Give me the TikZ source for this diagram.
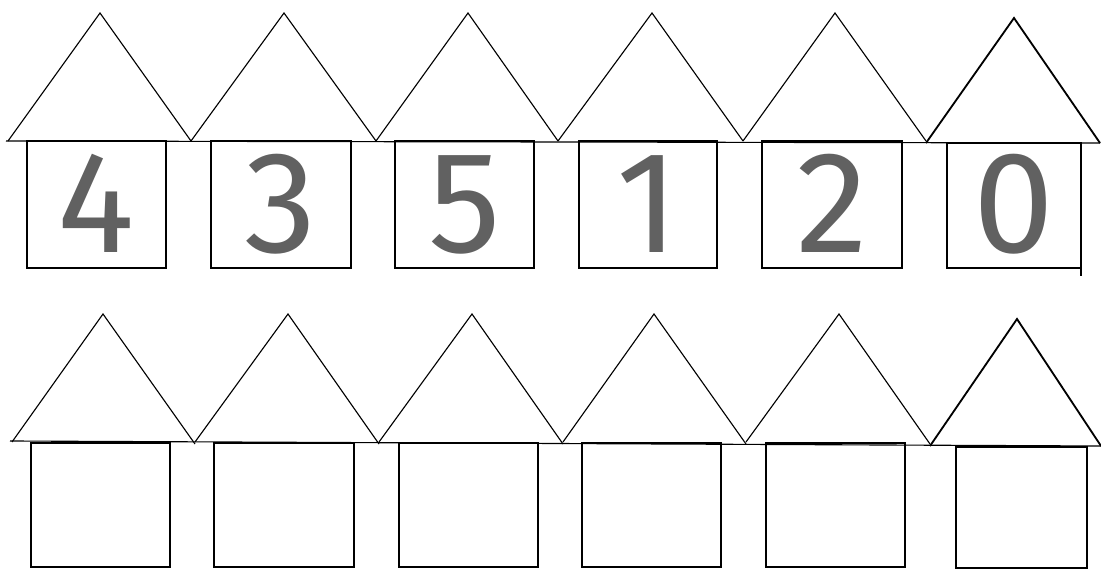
\documentclass[tikz,border=0pt]{standalone}
\usepackage{fontspec}
\newfontfamily\digitfont{Fira Sans}
\begin{document}
\begin{tikzpicture}[x=0.025cm,y=-0.025cm,line width=0.8pt,every node/.style={font=\digitfont\fontsize{103}{103}\selectfont,text=black!62,inner sep=0pt}]
  \useasboundingbox (0,0) rectangle (1101,570);
  % top row with digits
  \draw (6,141) -- (1100,143);
  \foreach \l/\a/\r/\sl/\sr/\d [count=\i] in {8/100/191/27/166/4,191/284/376/211/351/3,376/468/558/395/534/5,558/652/743/579/717/1,743/835/926/762/902/2} {
    \draw (\l,141) -- (\a,13) -- (\r,141);
    \draw (\sl,141) rectangle (\sr,268);
    \node[anchor=base] (top\i) at ({(\sl+\sr)/2},253) {\d};
  }
  \draw[line width=1.3pt] (926,143) -- (1014,18) -- (1100,143);
  \draw[line width=1.1pt] (947,143) rectangle (1081,268);
  \draw (1081,268) -- (1081,276);
  \node[anchor=base] (top6) at (1014,253) {0};
  % bottom row, empty
  \draw (10,441) -- (1101,446);
  \foreach \l/\a/\r/\sl/\sr in {12/103/195/31/170,195/288/379/214/354,379/472/563/399/538,563/654/746/582/721,746/839/930/766/905} {
    \draw (\l,442) -- (\a,314) -- (\r,444);
    \draw (\sl,443) rectangle (\sr,567);
  }
  \draw[line width=1.3pt] (930,446) -- (1017,319) -- (1101,446);
  \draw[line width=1.1pt] (956,447) rectangle (1087,568);
\end{tikzpicture}
\end{document}
